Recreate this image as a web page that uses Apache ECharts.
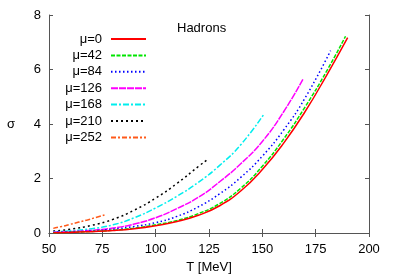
<!DOCTYPE html>
<html><head><meta charset="utf-8">
<script src="https://cdn.jsdelivr.net/npm/echarts@6/dist/echarts.min.js"></script>
<style>html,body{margin:0;padding:0;background:#fff}#c{width:393px;height:275px}</style>
</head><body><div id="c"></div>
<script>
var labels = ['μ=0','μ=42','μ=84','μ=126','μ=168','μ=210','μ=252'];
var T_mu0   = [52,60,70,80,90,100,110,120,130,140,150,160,170,180,190];
var s_mu0   = [0.01,0.02,0.05,0.09,0.16,0.27,0.42,0.65,1.00,1.55,2.33,3.30,4.45,5.77,7.17];
var T_mu42  = [52,60,70,80,90,100,110,120,130,140,150,160,170,180,189];
var s_mu42  = [0.01,0.025,0.055,0.10,0.18,0.30,0.46,0.71,1.08,1.65,2.45,3.45,4.62,5.92,7.22];
var T_mu84  = [52,60,70,80,90,100,110,120,130,140,150,160,170,182];
var s_mu84  = [0.02,0.04,0.08,0.14,0.24,0.38,0.61,0.96,1.44,2.05,2.82,3.78,4.95,6.69];
var T_mu126 = [52,60,70,80,90,100,110,120,130,140,150,160,169];
var s_mu126 = [0.03,0.05,0.10,0.18,0.33,0.56,0.90,1.31,1.88,2.55,3.36,4.45,5.64];
var T_mu168 = [52,60,70,80,90,100,110,120,130,140,151];
var s_mu168 = [0.04,0.08,0.16,0.30,0.56,0.92,1.35,1.86,2.48,3.25,4.39];
var T_mu210 = [52,60,70,80,90,100,110,120,124];
var s_mu210 = [0.07,0.14,0.28,0.50,0.84,1.28,1.82,2.44,2.68];
var T_mu252 = [52,56,60,64,68,72,76];
var s_mu252 = [0.17,0.24,0.32,0.40,0.48,0.57,0.66];
var xTicks = [50,75,100,125,150,175,200];
var yTicks = [0,2,4,6,8];

var Ts = [T_mu0,T_mu42,T_mu84,T_mu126,T_mu168,T_mu210,T_mu252];
var Ss = [s_mu0,s_mu42,s_mu84,s_mu126,s_mu168,s_mu210,s_mu252];
var colors = ['#ff0000','#00e600','#0000ff','#ff00ff','#00eeee','#000000','#ff5a1a'];
var dashes = ['solid',[4,1.5],[1.5,2.5],[7,1],[6,2,2,2],[2,3],[5,2,2,2]];

function zip(a,b){return a.map(function(v,i){return [v,b[i]];});}
var font = 'Liberation Sans, Arial, sans-serif';
var series = labels.map(function(n,i){
  return {name:n,type:'line',data:zip(Ts[i],Ss[i]),smooth:true,symbol:'none',
    lineStyle:{color:colors[i],width:1.5,type:dashes[i]},itemStyle:{color:colors[i]},z:10-i};
});
var axLine = {show:true,lineStyle:{color:'#555',width:1}};
var tick = {show:true,inside:true,length:4,lineStyle:{color:'#555'}};
var chart = echarts.init(document.getElementById('c'),null,{renderer:'canvas'});
chart.setOption({
  animation:false,
  backgroundColor:'#fff',
  textStyle:{fontFamily:font},
  title:{text:'Hadrons',left:172,top:17,textStyle:{fontSize:13,fontWeight:'normal',color:'#000',fontFamily:font}},
  legend:{orient:'vertical',align:'right',right:241,top:27.5,itemWidth:35,itemHeight:13,itemGap:3.4,
    itemStyle:{color:'transparent',borderColor:'transparent',borderWidth:0,opacity:0},
    textStyle:{fontSize:13,color:'#000',fontFamily:font,padding:[0,4,0,0]},data:labels},
  grid:{left:49,right:24,top:15,bottom:42,containLabel:false,outerBoundsMode:'none'},
  xAxis:[{type:'value',min:50,max:200,interval:25,axisLine:axLine,axisTick:tick,
    axisLabel:{margin:10,fontSize:13,color:'#000',fontFamily:font},splitLine:{show:false},
    name:'T [MeV]',nameLocation:'middle',nameGap:25,nameTextStyle:{fontSize:13,color:'#000',fontFamily:font}},
   {type:'value',position:'top',min:50,max:200,interval:25,axisLine:axLine,axisTick:tick,
    axisLabel:{show:false},splitLine:{show:false}}],
  yAxis:[{type:'value',min:0,max:8,interval:2,axisLine:axLine,axisTick:tick,
    axisLabel:{margin:8,fontSize:13,color:'#000',fontFamily:font},splitLine:{show:false},
    name:'σ',nameLocation:'middle',nameGap:34,nameRotate:0,nameTextStyle:{fontSize:13,color:'#000',fontFamily:font}},
   {type:'value',position:'right',min:0,max:8,interval:2,axisLine:axLine,axisTick:tick,
    axisLabel:{show:false},splitLine:{show:false}}],
  series:series
});
</script></body></html>
